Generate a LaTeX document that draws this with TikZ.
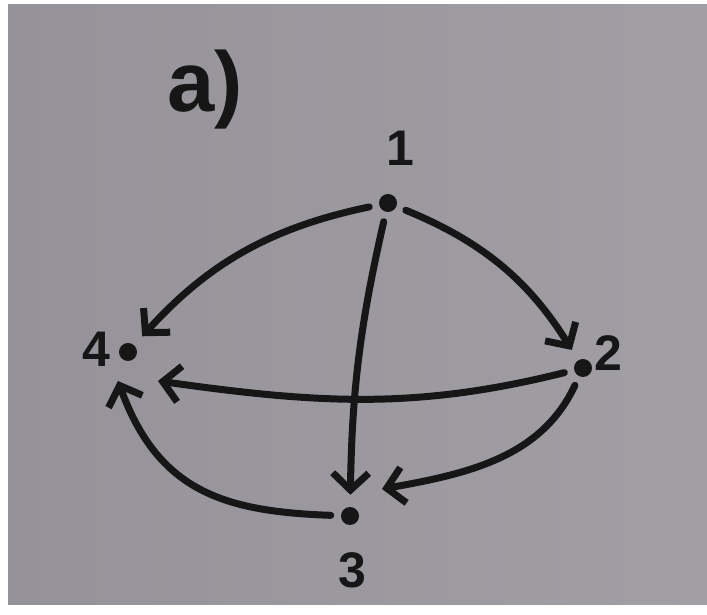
\documentclass[tikz,border=0pt]{standalone}
\usepackage{fontspec}
\setsansfont{Liberation Sans}
\usetikzlibrary{arrows.meta}
\definecolor{paper}{HTML}{959399}
\definecolor{paperHi}{HTML}{A19FA4}
\definecolor{marker}{HTML}{161616}

\begin{document}
\begin{tikzpicture}[x=1pt, y=1pt,
    dot/.style={circle, fill=marker, inner sep=0pt, minimum size=18pt},
    lbl/.style={font=\fontsize{50}{50}\selectfont\sffamily\bfseries, text=marker},
    edge/.style={-{Straight Barb[length=17pt,width=36pt]}, line width=7pt, draw=marker,
                 line cap=round, shorten <=10pt, shorten >=12pt}]
  % photo frame: white strip left and bottom, grey paper
  \fill[white] (0,0) rectangle (707,615);
  \shade[left color=paper, right color=paperHi] (8,10) rectangle (707,610);

  % ---------------- title
  \node[lbl, font=\fontsize{85}{85}\selectfont\sffamily\bfseries] (title) at (205,525) {a)};

  % ---------------- vertices
  \node[dot] (v1) at (388,412) {};
  \node[dot] (v2) at (583,247) {};
  \node[dot] (v3) at (350,99) {};
  \node[dot] (v4) at (128,263) {};
  \node[lbl] (l1) at (400,467) {1};
  \node[lbl] (l2) at (608,262) {2};
  \node[lbl] (l3) at (352,45) {3};
  \node[lbl] (l4) at (96,266) {4};
  % arrow tips that stop beside a vertex rather than at it
  \coordinate (t24) at (158,234);
  \coordinate (t23) at (382,126);
  \coordinate (t34) at (118,234);

  % ---------------- arcs
  \draw[edge] (v1) to[bend right=18] (v4);
  \draw[edge] (v1) to[bend left=18] (v2);
  \draw[edge] (v1) to[bend right=6] (v3);
  \draw[edge, shorten >=0pt] (v2) to[out=194, in=-8] (t24);
  \draw[edge, shorten >=0pt] (v2) to[out=245, in=10] (t23);
  \draw[edge, shorten >=0pt] (v3) to[out=178, in=-70, looseness=1.15] (t34);
\end{tikzpicture}
\end{document}
